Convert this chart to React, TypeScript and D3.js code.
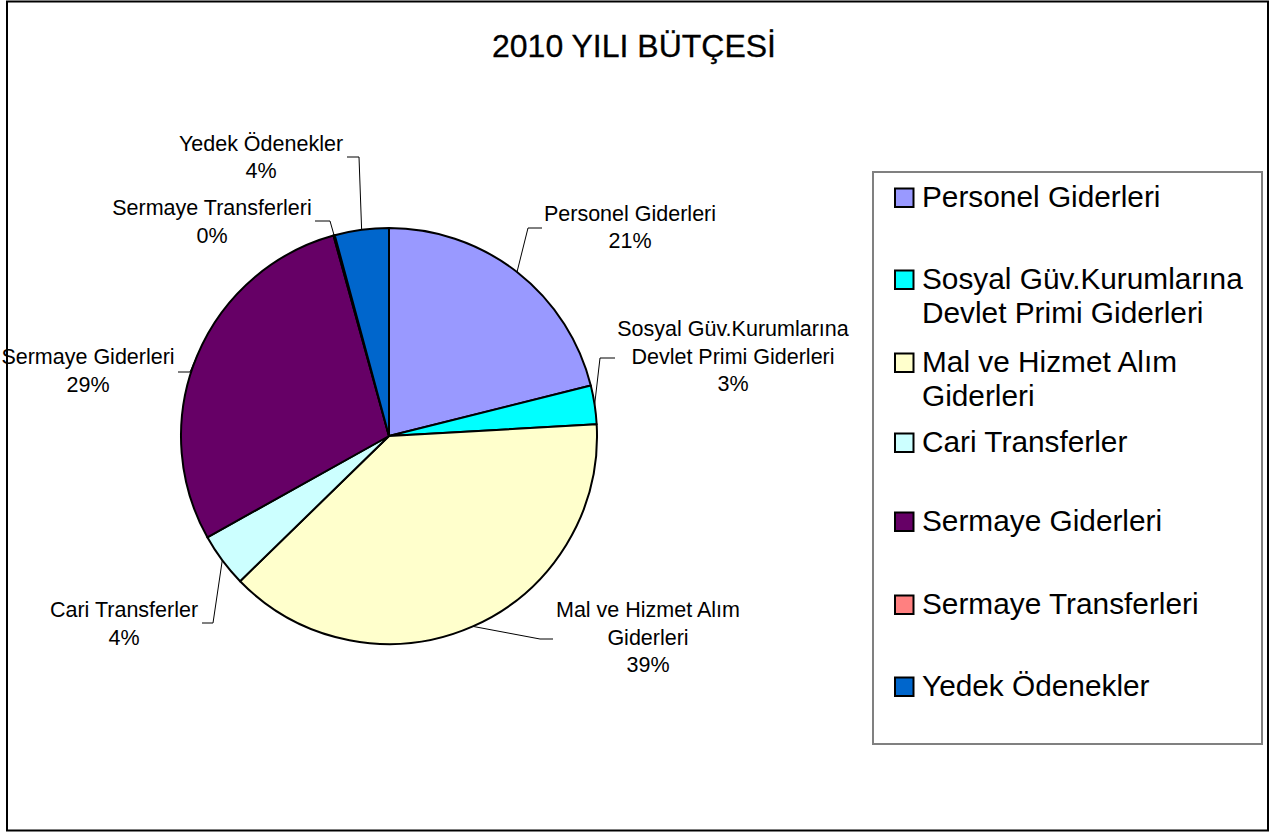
import React from "react";
import * as d3 from "d3";

const categories = [
  "Personel Giderleri",
  "Sosyal Güv.Kurumlarına Devlet Primi Giderleri",
  "Mal ve Hizmet Alım Giderleri",
  "Cari Transferler",
  "Sermaye Giderleri",
  "Sermaye Transferleri",
  "Yedek Ödenekler",
];
const values = [21.1, 3.0, 38.6, 4.2, 28.8, 0.1, 4.2];
const colors = ["#9999FF", "#00FFFF", "#FFFFCC", "#CCFFFF", "#660066", "#FF8080", "#0066CC"];
const labelLines = [
  ["Personel Giderleri"],
  ["Sosyal Güv.Kurumlarına", "Devlet Primi Giderleri"],
  ["Mal ve Hizmet Alım", "Giderleri"],
  ["Cari Transferler"],
  ["Sermaye Giderleri"],
  ["Sermaye Transferleri"],
  ["Yedek Ödenekler"],
];
const legendLines = [
  ["Personel Giderleri"],
  ["Sosyal Güv.Kurumlarına", "Devlet Primi Giderleri"],
  ["Mal ve Hizmet Alım", "Giderleri"],
  ["Cari Transferler"],
  ["Sermaye Giderleri"],
  ["Sermaye Transferleri"],
  ["Yedek Ödenekler"],
];
const title = "2010 YILI BÜTÇESİ";

// layout (positions of data labels and leader elbows)
const labelPos = [
  { x: 630, y: 220.5, ex: 528, ey: 228, tx: 542 },
  { x: 733, y: 336, ex: 600, ey: 358, tx: 615 },
  { x: 648, y: 617, ex: 540, ey: 639, tx: 553 },
  { x: 124, y: 617, ex: 213, ey: 623, tx: 202 },
  { x: 88, y: 364, ex: 190, ey: 372, tx: 178 },
  { x: 212, y: 215, ex: 330, ey: 221, tx: 315 },
  { x: 261, y: 150.5, ex: 359, ey: 157, tx: 347 },
];
const legendBaselines = [207, 289, 372, 452, 531, 614, 696];

const FONT = "'Liberation Sans', Arial, sans-serif";

export default function App() {
  const cx = 389;
  const cy = 436;
  const r = 208;
  const total = d3.sum(values);
  const pie = d3.pie<number>().sort(null).value((d) => d);
  const arcs = pie(values);
  const arc = d3.arc<d3.PieArcDatum<number>>().innerRadius(0).outerRadius(r);

  return (
    <svg
      width={1282}
      height={834}
      style={{ position: "absolute", left: 0, top: 0, background: "#fff" }}
      fontFamily={FONT}
    >
      <rect x={7} y={1.5} width={1261} height={829} fill="#fff" stroke="#000" strokeWidth={2} />
      <text x={634} y={57} textAnchor="middle" fontSize={32} fill="#000" stroke="#000" strokeWidth={0.3}>
        {title}
      </text>
      <g transform={`translate(${cx},${cy})`}>
        {arcs.map((a, i) => (
          <path key={i} d={arc(a) || ""} fill={colors[i]} stroke="#000" strokeWidth={2} strokeLinejoin="round" />
        ))}
      </g>
      {arcs.map((a, i) => {
        const mid = (a.startAngle + a.endAngle) / 2;
        const sx = cx + r * Math.sin(mid);
        const sy = cy - r * Math.cos(mid);
        const p = labelPos[i];
        const lines = [...labelLines[i], `${Math.round((values[i] / total) * 100)}%`];
        return (
          <g key={i}>
            <polyline
              points={`${sx},${sy} ${p.ex},${p.ey} ${p.tx},${p.ey}`}
              fill="none"
              stroke="#000"
              strokeWidth={1}
            />
            {lines.map((t, j) => (
              <text key={j} x={p.x} y={p.y + j * 27.5} textAnchor="middle" fontSize={21.5} fill="#000">
                {t}
              </text>
            ))}
          </g>
        );
      })}
      <rect x={873} y={172} width={389} height={572} fill="#fff" stroke="#808080" strokeWidth={2} />
      {categories.map((c, i) => {
        const b = legendBaselines[i];
        return (
          <g key={c}>
            <rect x={895} y={b - 18.5} width={18.5} height={18.5} fill={colors[i]} stroke="#000" strokeWidth={2} />
            {legendLines[i].map((t, j) => (
              <text key={j} x={922} y={b + j * 33.5} fontSize={29.8} fill="#000">
                {t}
              </text>
            ))}
          </g>
        );
      })}
    </svg>
  );
}
